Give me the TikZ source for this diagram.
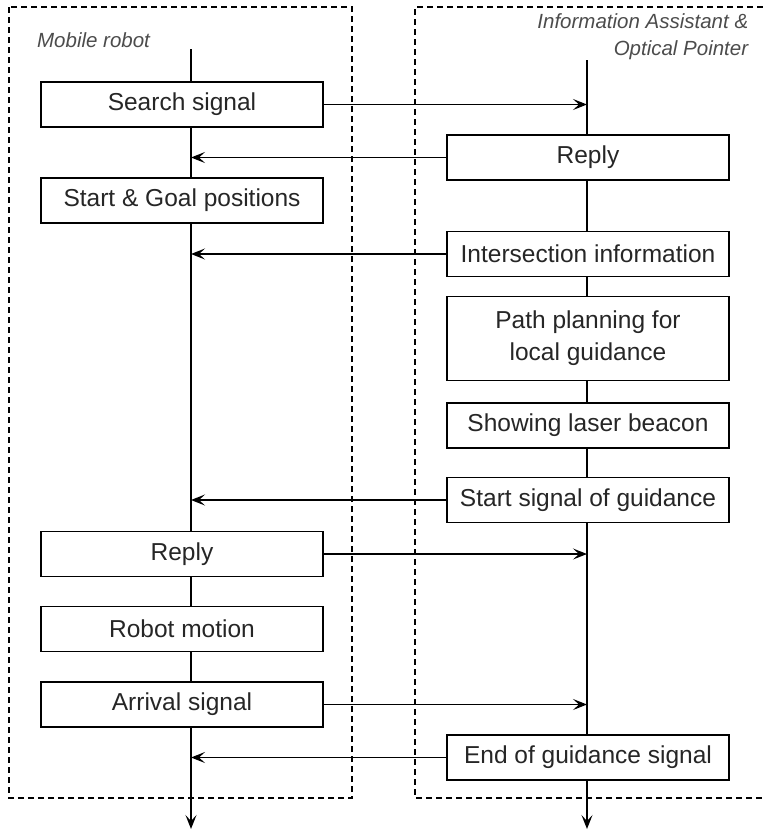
\documentclass[tikz,border=0pt]{standalone}
\usepackage{fontspec}
\setmainfont{Liberation Sans}
\usetikzlibrary{arrows.meta}

\tikzset{every picture/.style={line width=1.6pt}}
\tikzset{
	stage/.style={draw,fill=white,minimum width=282,minimum height=45,inner sep=0pt,text=black!85,font=\fontsize{24.5}{32}\selectfont,align=center},
	frame/.style={dashed,line width=1.2pt,dash pattern=on 6pt off 4pt},
	actor/.style={text=black!70,font=\fontsize{20.5}{27}\selectfont\itshape},
	msg/.style={-{Stealth[length=14pt,width=11pt,inset=6pt]}},
}

\begin{document}
\begin{tikzpicture}[x=1pt,y=-1pt]
			\useasboundingbox (0,0) rectangle (763,831);
			% the two sides
			\draw[frame] (9,7) rectangle (352,798);
			\draw[frame] (763,7) -| (415,798) -- (763,798);
			\node[actor,anchor=west] (robot) at (33,40) {Mobile robot};
			\node[actor,anchor=north east,align=right,inner sep=0pt] (pointer) at (749,13) {Information Assistant \&\\Optical Pointer};
			% life lines
			\coordinate (ltop) at (191,49);
			\coordinate (lbot) at (191,829);
			\coordinate (rtop) at (587,60);
			\coordinate (rbot) at (587,829);
			\draw[msg] (ltop) -- (lbot);
			\draw[msg] (rtop) -- (rbot);
			% robot side
			\node[stage] (search) at (182,104.5) {Search signal};
			\node[stage] (goal) at (182,200.5) {Start \& Goal positions};
			\node[stage] (lreply) at (182,554) {Reply};
			\node[stage] (motion) at (182,629) {Robot motion};
			\node[stage] (arrival) at (182,704.5) {Arrival signal};
			% pointer side
			\node[stage] (rreply) at (588,157.5) {Reply};
			\node[stage] (inter) at (588,254) {Intersection information};
			\node[stage,minimum height=84] (plan) at (588,338.5) {Path planning for\\local guidance};
			\node[stage] (beacon) at (588,425.5) {Showing laser beacon};
			\node[stage] (startg) at (588,500) {Start signal of guidance};
			\node[stage] (endg) at (588,757.5) {End of guidance signal};
			% messages
			\draw[msg] (search.east) -- (search.east -| rtop);
			\draw[msg] (rreply.west) -- (rreply.west -| ltop);
			\draw[msg] (inter.west) -- (inter.west -| ltop);
			\draw[msg] (startg.west) -- (startg.west -| ltop);
			\draw[msg] (lreply.east) -- (lreply.east -| rtop);
			\draw[msg] (arrival.east) -- (arrival.east -| rtop);
			\draw[msg] (endg.west) -- (endg.west -| ltop);
		\end{tikzpicture}
\end{document}
